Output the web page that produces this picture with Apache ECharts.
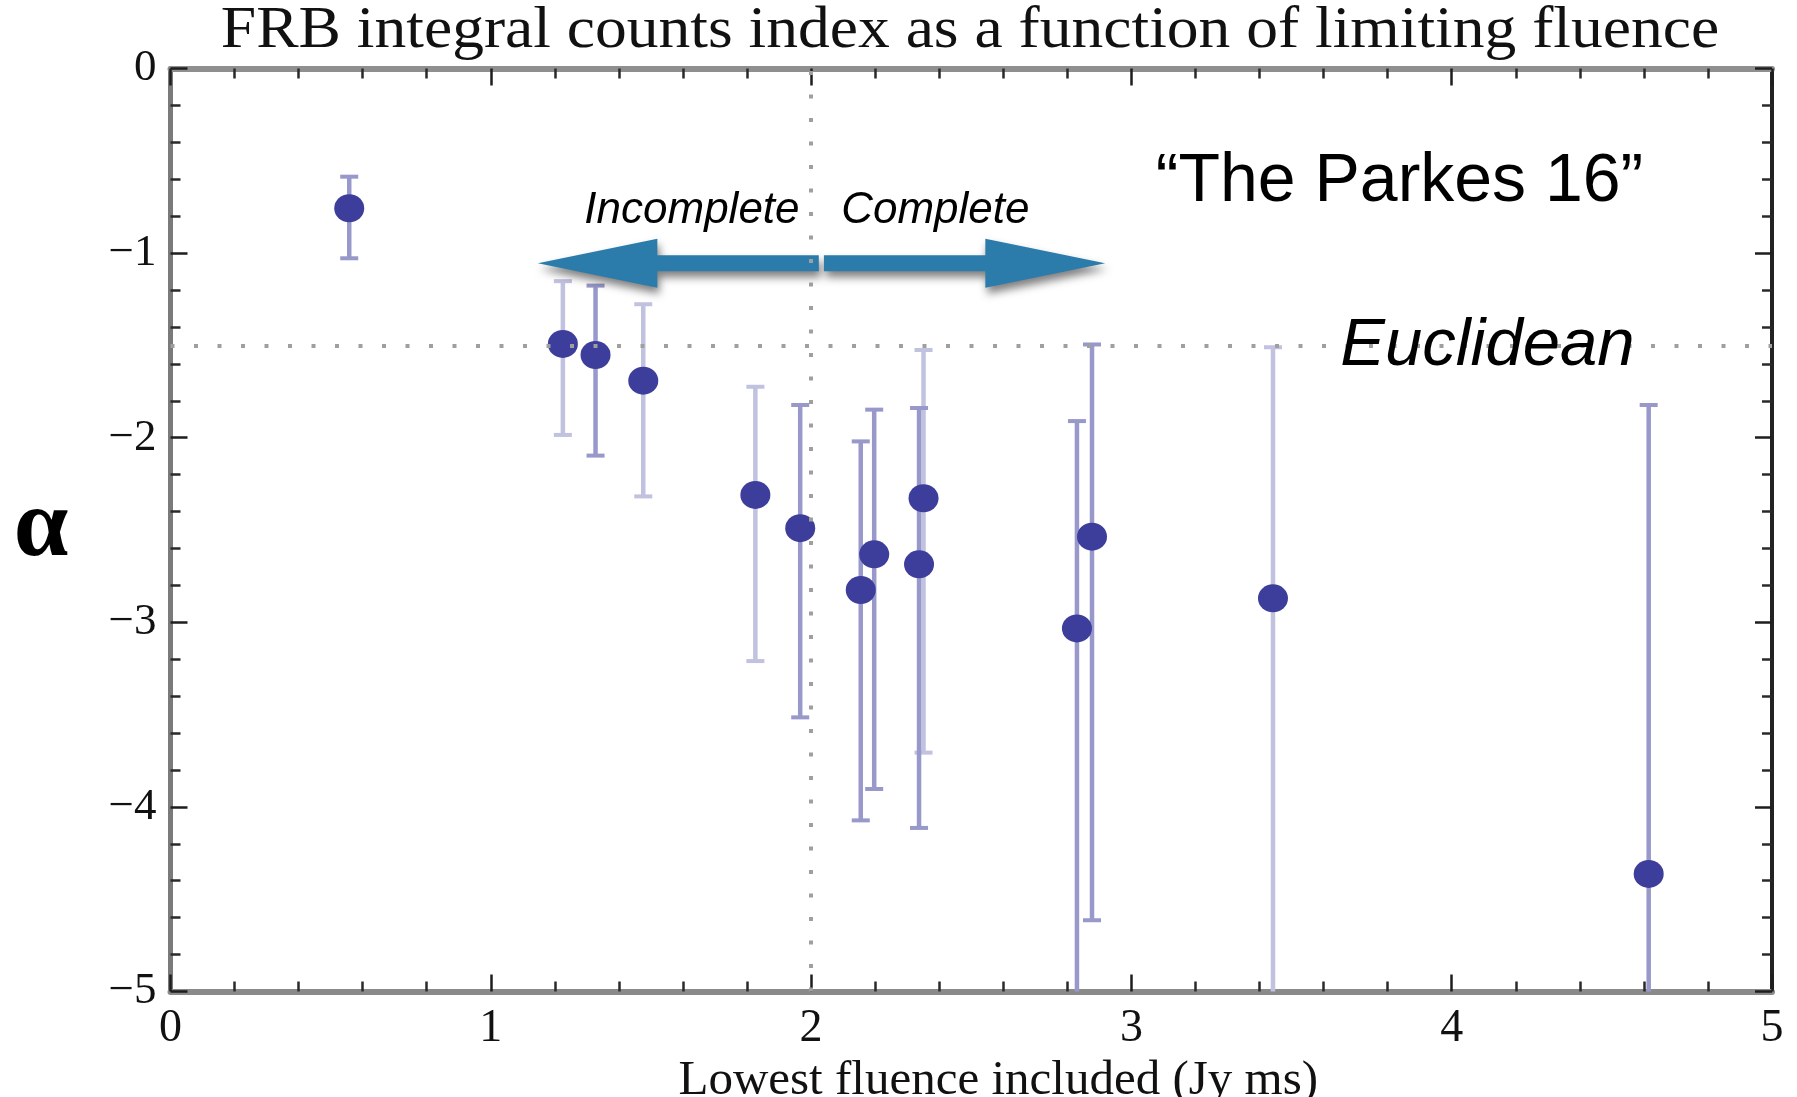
<!DOCTYPE html>
<html>
<head>
<meta charset="utf-8">
<title>FRB integral counts index as a function of limiting fluence</title>
<script src="https://cdn.jsdelivr.net/npm/echarts@6/dist/echarts.min.js"></script>
<style>
  html, body { margin: 0; padding: 0; background: #ffffff; }
  #chart { width: 1797px; height: 1097px; }
</style>
</head>
<body>
<div id="chart"></div>
<script>
// Lowest fluence included (Jy ms) and the fitted integral counts index alpha
const fluence    = [0.558, 1.225, 1.327, 1.476, 1.826, 1.966, 2.155, 2.197, 2.351, 2.337, 2.830, 2.877, 3.442, 4.615];
const alpha      = [-0.757, -1.492, -1.552, -1.691, -2.310, -2.490, -2.825, -2.632, -2.328, -2.686, -3.033, -2.536, -2.870, -4.363];
const alphaUpper = [-0.586, -1.152, -1.176, -1.277, -1.724, -1.823, -2.020, -1.848, -1.525, -1.839, -1.910, -1.495, -1.510, -1.823];
// null: the lower error extends past the bottom of the plot
const alphaLower = [-1.028, -1.985, -2.097, -2.318, -3.210, -3.515, -4.073, -3.903, -3.706, -4.114, null, -4.614, null, null];

const xTickLabels = ['0', '1', '2', '3', '4', '5'];
const yTickLabels = ['\u22125', '\u22124', '\u22123', '\u22122', '\u22121', '0'];

const euclideanIndex = -1.5;
const completenessLimit = 2;

const X_MIN = 0, X_MAX = 5, Y_MIN = -5, Y_MAX = 0;

// error bars drawn in a lighter tint
const faintBars = new Set([1, 3, 4, 8, 12]);

// Incomplete / Complete arrows around the completeness limit
const arrowSpec = {
  y: -1.055,
  left:  { tip: 1.147, base: 1.520, tail: 2.024 },
  right: { tail: 2.040, base: 2.544, tip: 2.918 },
  shaftHalf: 8,
  headHalf: 24.5
};

const notes = [
  { text: 'Incomplete', x: 1.292, y: -0.768, size: 44, italic: true },
  { text: 'Complete', x: 2.094, y: -0.768, size: 44, italic: true },
  { text: '\u201CThe Parkes 16\u201D', x: 3.076, y: -0.615, size: 68, italic: false },
  { text: 'Euclidean', x: 3.652, y: -1.505, size: 67, italic: true }
];

const serif = '"Liberation Serif", "Times New Roman", serif';
const sans = '"Liberation Sans", Arial, Helvetica, sans-serif';

const points = fluence.map((x, i) => [x, alpha[i]]);
const bars = fluence.map((x, i) => [
  x,
  alphaUpper[i],
  alphaLower[i] === null ? Y_MIN : alphaLower[i],
  alphaLower[i] === null ? 0 : 1
]);

function axisCommon(color, width) {
  return {
    min: X_MIN, max: X_MAX, interval: 1,
    axisLine: { show: true, onZero: false, lineStyle: { color: color, width: width } },
    axisTick: { show: true, inside: true, length: 17, lineStyle: { color: '#1e1e1e', width: 2.5 } },
    minorTick: { show: true, splitNumber: 5, length: 10, lineStyle: { color: '#2a2a2a', width: 2.5 } },
    splitLine: { show: false },
    minorSplitLine: { show: false }
  };
}

const chart = echarts.init(document.getElementById('chart'), null, { renderer: 'canvas' });

const option = {
  animation: false,
  backgroundColor: '#ffffff',
  graphic: [
    {
      // plot title, centred over the frame
      type: 'text',
      x: 970,
      y: 31,
      scaleX: 1.077,
      silent: true,
      style: {
        text: 'FRB integral counts index as a function of limiting fluence',
        fontFamily: serif,
        fontSize: 59,
        fill: '#111111',
        align: 'center',
        verticalAlign: 'middle'
      }
    }
  ],
  grid: {
    left: 170.5, right: 25, top: 68.5, bottom: 105.5,
    containLabel: false,
    outerBoundsMode: 'none'
  },
  xAxis: [
    Object.assign(axisCommon('#8a8a8a', 6), {
      type: 'value', position: 'bottom',
      name: 'Lowest fluence included (Jy ms)',
      nameLocation: 'middle',
      nameGap: 61,
      nameTextStyle: { fontFamily: serif, fontSize: 49, color: '#111111', lineHeight: 49, padding: [0, 0, 0, 54] },
      axisLabel: {
        show: true, margin: 14,
        fontFamily: serif, fontSize: 46, color: '#111111',
        formatter: v => xTickLabels[Math.round(v - X_MIN)]
      }
    }),
    Object.assign(axisCommon('#8f8f8f', 6), {
      type: 'value', position: 'top',
      axisLabel: { show: false }
    })
  ],
  yAxis: [
    Object.assign(axisCommon('#7a7a7a', 5), {
      type: 'value', position: 'left',
      min: Y_MIN, max: Y_MAX, interval: 1,
      name: '\u03B1',
      nameLocation: 'middle',
      nameRotate: 0,
      nameGap: 102,
      nameTextStyle: { fontFamily: serif, fontSize: 98, fontWeight: 'bold', color: '#000000', padding: [0, 0, 14, 0] },
      axisLabel: {
        show: true, margin: 14,
        fontFamily: serif, fontSize: 45, color: '#111111',
        formatter: v => yTickLabels[Math.round(v - Y_MIN)]
      }
    }),
    Object.assign(axisCommon('#222222', 4), {
      type: 'value', position: 'right',
      min: Y_MIN, max: Y_MAX, interval: 1,
      axisLabel: { show: false }
    })
  ],
  series: [
    {
      // reference lines: completeness limit and Euclidean slope
      type: 'scatter',
      name: 'guides',
      data: [],
      z: 1,
      silent: true,
      markLine: {
        silent: true,
        symbol: ['none', 'none'],
        label: { show: false },
        lineStyle: { type: [4, 19.5], color: '#9f9f9f', width: 4 },
        emphasis: { disabled: true },
        data: [{ xAxis: completenessLimit }, { yAxis: euclideanIndex }]
      }
    },
    {
      type: 'custom',
      name: 'error bars',
      z: 2,
      silent: true,
      encode: { x: 0, y: [1, 2] },
      data: bars,
      renderItem: function (params, api) {
        const x = api.value(0);
        const top = api.coord([x, api.value(1)]);
        const bot = api.coord([x, api.value(2)]);
        const capped = api.value(3) === 1;
        const color = faintBars.has(params.dataIndex) ? '#c1c1e0' : '#9898ca';
        const capHalf = 9;
        const children = [
          { type: 'line', shape: { x1: top[0], y1: top[1], x2: bot[0], y2: bot[1] },
            style: { stroke: color, lineWidth: 4.5 } },
          { type: 'line', shape: { x1: top[0] - capHalf, y1: top[1], x2: top[0] + capHalf, y2: top[1] },
            style: { stroke: color, lineWidth: 4 } }
        ];
        if (capped) {
          children.push({ type: 'line', shape: { x1: bot[0] - capHalf, y1: bot[1], x2: bot[0] + capHalf, y2: bot[1] },
            style: { stroke: color, lineWidth: 4 } });
        }
        return { type: 'group', children: children };
      }
    },
    {
      type: 'scatter',
      name: 'alpha',
      z: 3,
      data: points,
      symbol: 'circle',
      symbolSize: [30, 28],
      itemStyle: { color: '#3d3d9b', opacity: 1 }
    },
    {
      type: 'custom',
      name: 'arrows',
      z: 4,
      silent: true,
      data: [[arrowSpec.left.tip, arrowSpec.y]],
      renderItem: function (params, api) {
        const s = arrowSpec;
        const yc = api.coord([s.left.tip, s.y])[1];
        const px = v => api.coord([v, s.y])[0];
        const sh = s.shaftHalf, hh = s.headHalf;
        const L = s.left, R = s.right;
        const leftPts = [
          [px(L.tip), yc], [px(L.base), yc - hh], [px(L.base), yc - sh], [px(L.tail), yc - sh],
          [px(L.tail), yc + sh], [px(L.base), yc + sh], [px(L.base), yc + hh]
        ];
        const rightPts = [
          [px(R.tip), yc], [px(R.base), yc + hh], [px(R.base), yc + sh], [px(R.tail), yc + sh],
          [px(R.tail), yc - sh], [px(R.base), yc - sh], [px(R.base), yc - hh]
        ];
        const style = {
          fill: '#2b7bab',
          shadowBlur: 9,
          shadowColor: 'rgba(0,0,0,0.5)',
          shadowOffsetX: 2,
          shadowOffsetY: 6
        };
        return {
          type: 'group',
          children: [
            { type: 'polygon', shape: { points: leftPts }, style: style },
            { type: 'polygon', shape: { points: rightPts }, style: style }
          ]
        };
      }
    },
    {
      type: 'custom',
      name: 'notes',
      z: 5,
      silent: true,
      data: notes.map(n => [n.x, n.y]),
      renderItem: function (params, api) {
        const n = notes[params.dataIndex];
        const p = api.coord([api.value(0), api.value(1)]);
        return {
          type: 'text',
          style: {
            text: n.text,
            x: p[0], y: p[1],
            fill: '#000000',
            fontFamily: sans,
            fontSize: n.size,
            fontStyle: n.italic ? 'italic' : 'normal',
            align: 'left',
            verticalAlign: 'middle'
          }
        };
      }
    }
  ]
};

chart.setOption(option);
</script>
</body>
</html>
